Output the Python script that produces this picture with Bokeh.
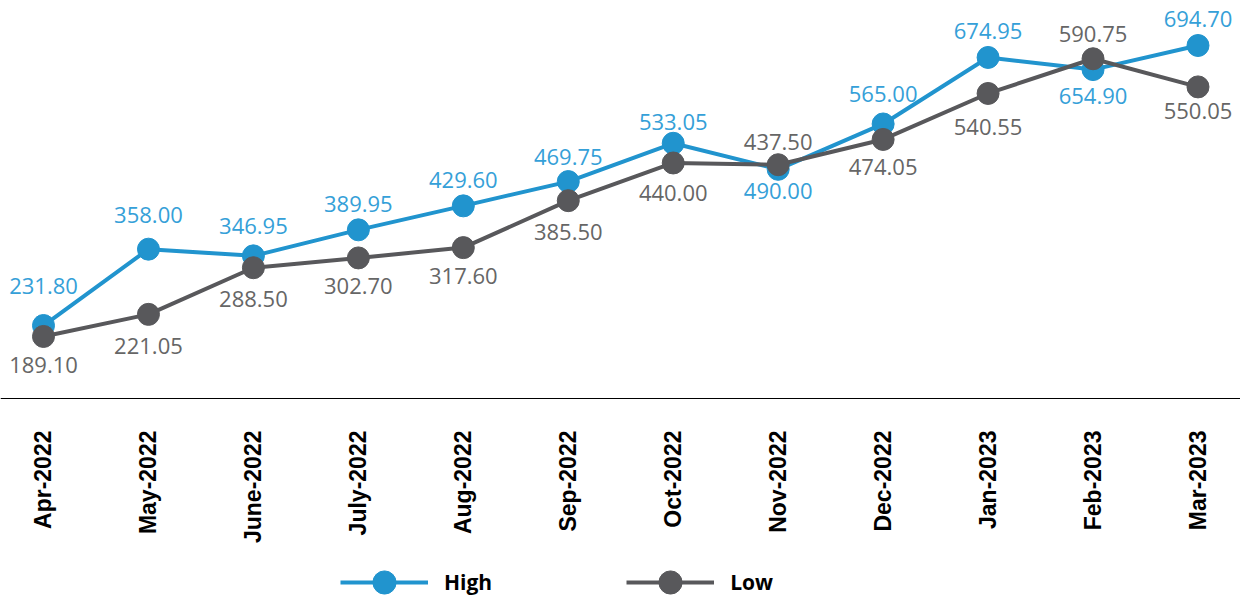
import math
import numpy as np
from bokeh.plotting import figure
from bokeh.models import Range1d, ColumnDataSource, Legend, LegendItem, FixedTicker
from bokeh.core.properties import value
from bokeh.embed import file_html
from bokeh.resources import INLINE

months = ["Apr-2022", "May-2022", "June-2022", "July-2022", "Aug-2022", "Sep-2022",
          "Oct-2022", "Nov-2022", "Dec-2022", "Jan-2023", "Feb-2023", "Mar-2023"]
high = [231.80, 358.00, 346.95, 389.95, 429.60, 469.75, 533.05, 490.00, 565.00, 674.95, 654.90, 694.70]
low = [189.10, 221.05, 288.50, 302.70, 317.60, 385.50, 440.00, 437.50, 474.05, 540.55, 590.75, 550.05]

# data-label offsets in pixels (positive = down)
high_dy = [-40, -34, -30, -26, -26, -25, -21, 22, -30, -26, 26, -27]
low_dy = [29, 32, 31, 28, 28, 31, 30, -23, 28, 34, -25, 24]

BLUE = "#2194ce"
BLUE_TXT = "#35a0d8"
GRAY = "#58585b"
GRAY_TXT = "#666666"

xs = list(range(len(months)))
src_h = ColumnDataSource(dict(x=xs, y=high, t=[f"{v:.2f}" for v in high], dy=high_dy))
src_l = ColumnDataSource(dict(x=xs, y=low, t=[f"{v:.2f}" for v in low], dy=low_dy))

HIGH_BASE = 111.1
p = figure(width=1240, height=596,
           x_range=Range1d(-0.4097, 11.405),
           y_range=Range1d(-216.2, 769.1),
           y_axis_location=None, toolbar_location=None, output_backend="svg",
           min_border_left=0, min_border_right=0, min_border_top=0, min_border_bottom=0)
p.extra_y_ranges = {"low": Range1d(-187.0, 675.0)}
p.outline_line_color = None
p.xgrid.visible = False
p.ygrid.visible = False
p.background_fill_color = None
p.border_fill_color = None

lh = p.line("x", "y", source=src_h, line_color=BLUE, line_width=4)
sh = p.scatter("x", "y", source=src_h, size=22, fill_color=BLUE, line_color=BLUE)
ll = p.line("x", "y", source=src_l, line_color=GRAY, line_width=4, y_range_name="low")
sl = p.scatter("x", "y", source=src_l, size=22, fill_color=GRAY, line_color=GRAY, y_range_name="low")

p.text("x", "y", text="t", source=src_h, y_offset="dy", text_align="center", text_baseline="middle",
       text_color=BLUE_TXT, text_font=value("Open Sans"), text_font_size="22px")
p.text("x", "y", text="t", source=src_l, y_offset="dy", text_align="center", text_baseline="middle",
       text_color=GRAY_TXT, text_font=value("Open Sans"), text_font_size="22px", y_range_name="low")

ax = p.xaxis[0]
ax.fixed_location = HIGH_BASE
ax.ticker = FixedTicker(ticks=xs)
ax.major_label_overrides = {i: m for i, m in enumerate(months)}
ax.major_label_orientation = math.pi / 2
ax.major_label_text_font = "Liberation Sans"
ax.major_label_text_font_style = "bold"
ax.major_label_text_font_size = "23px"
ax.major_label_text_color = "black"
ax.major_label_standoff = 26
ax.major_tick_line_color = None
ax.minor_tick_line_color = None
ax.axis_line_color = "black"
ax.axis_line_width = 1

legend = Legend(items=[LegendItem(label="High", renderers=[lh, sh]),
                       LegendItem(label="Low", renderers=[ll, sl])],
                orientation="horizontal", location=(340, -15),
                glyph_width=88, glyph_height=58, label_standoff=16, spacing=134,
                padding=0, margin=0, border_line_color=None, background_fill_alpha=0,
                label_text_font="Open Sans", label_text_font_style="bold",
                label_text_font_size="21px", label_text_color="black")
p.add_layout(legend)

open("out.html", "w").write(file_html(p, INLINE))
